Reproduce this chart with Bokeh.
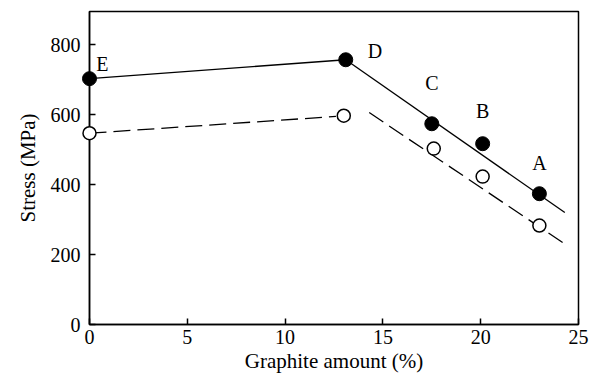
from bokeh.plotting import figure
from bokeh.models import Range1d, FixedTicker
from bokeh.core.properties import value
from bokeh.embed import file_html
from bokeh.resources import INLINE

# filled markers (solid series)
labels = ["E", "D", "C", "B", "A"]
gx_filled = [0.0, 13.1, 17.5, 20.1, 23.0]
stress_filled = [703, 757, 574, 517, 374]
# open markers (dashed series)
gx_open = [0.0, 13.0, 17.6, 20.1, 23.0]
stress_open = [547, 597, 503, 423, 283]

# trend lines (solid)
solid1_x = [0.0, 13.1]
solid1_y = [703, 757]
solid2_x = [13.1, 24.3]
solid2_y = [757, 320]
# trend lines (dashed)
dash1_x = [0.0, 12.6]
dash1_y = [547, 595]
dash2_x = [14.3, 24.2]
dash2_y = [606, 234]

# label positions
lab_x = [0.66, 14.6, 17.5, 20.1, 23.0]
lab_y = [746, 783, 691, 611, 463]

x_ticks = [0, 5, 10, 15, 20, 25]
y_ticks = [0, 200, 400, 600, 800]

FONT = "Liberation Serif"

p = figure(width=596, height=376, output_backend="svg", toolbar_location=None,
           x_range=Range1d(0, 25), y_range=Range1d(0, 895),
           min_border_left=89, min_border_right=18, min_border_top=11, min_border_bottom=52)
p.grid.visible = False
p.outline_line_color = "black"
p.outline_line_width = 1.5
p.background_fill_color = "white"
p.border_fill_color = "white"

for ax in (p.xaxis[0], p.yaxis[0]):
    ax.axis_line_color = "black"
    ax.axis_line_width = 1.5
    ax.major_tick_line_color = "black"
    ax.major_tick_line_width = 1.5
    ax.major_tick_in = 6
    ax.major_tick_out = 0
    ax.minor_tick_line_color = None
    ax.major_label_text_font = FONT
    ax.major_label_text_font_size = "20px"
    ax.major_label_text_color = "black"
    ax.axis_label_text_font = FONT
    ax.axis_label_text_font_size = "21px"
    ax.axis_label_text_font_style = "normal"
    ax.axis_label_text_color = "black"

p.xaxis.ticker = FixedTicker(ticks=x_ticks)
p.yaxis.ticker = FixedTicker(ticks=y_ticks)
p.xaxis.axis_label = "Graphite amount (%)"
p.yaxis.axis_label = "Stress (MPa)"
p.xaxis.major_label_standoff = 5
p.yaxis.major_label_standoff = 9
p.xaxis.axis_label_standoff = 2
p.yaxis.axis_label_standoff = 8

p.line(solid1_x, solid1_y, line_color="black", line_width=1.3)
p.line(solid2_x, solid2_y, line_color="black", line_width=1.3)
p.line(dash1_x, dash1_y, line_color="black", line_width=1.3, line_dash="17 7")
p.line(dash2_x, dash2_y, line_color="black", line_width=1.3, line_dash="17 7")

p.scatter(gx_filled, stress_filled, size=14, marker="circle",
          fill_color="black", line_color="black", level="overlay")
p.scatter(gx_open, stress_open, size=13, marker="circle",
          fill_color="white", line_color="black", line_width=1.5, level="overlay")

p.text(lab_x, lab_y, text=labels, text_font=value(FONT), text_font_size="20px",
       text_align="center", text_baseline="middle", text_color="black")

open("out.html", "w").write(file_html(p, INLINE))
